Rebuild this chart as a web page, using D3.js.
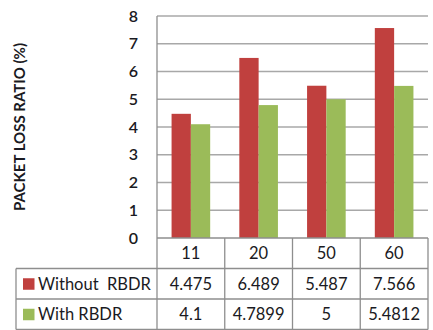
<!DOCTYPE html>
<html>
<head>
<meta charset="utf-8">
<script src="https://cdn.jsdelivr.net/npm/d3@7"></script>
<style>
  body { margin: 0; background: #fff; }
  text { font-family: Lato, "Open Sans", sans-serif; fill: #1a1a22; }
</style>
</head>
<body>
<div id="chart"></div>
<script>
// data
var categories = ["11", "20", "50", "60"];
var seriesNames = ["Without  RBDR", "With RBDR"];
var withoutRBDR = [4.475, 6.489, 5.487, 7.566];
var withRBDR = [4.1, 4.7899, 5, 5.4812];
var yTicks = [0, 1, 2, 3, 4, 5, 6, 7, 8];
var seriesColors = ["#c0403e", "#9bbb59"];

var series = [withoutRBDR, withRBDR];

var width = 433, height = 330;
var plotLeft = 157, plotRight = 428, plotTop = 16, plotBottom = 238;
var rowH = 30.5;
var tableLeft = 16;

var svg = d3.select("#chart")
  .append("svg")
  .attr("width", width)
  .attr("height", height);

// scales
var x0 = d3.scaleBand()
  .domain(categories)
  .range([plotLeft, plotRight])
  .padding(0);

var x1 = d3.scaleBand()
  .domain(d3.range(series.length))
  .range([x0.bandwidth() * 0.215, x0.bandwidth() * 0.785])
  .padding(0);

var y = d3.scaleLinear()
  .domain([0, 8])
  .range([plotBottom, plotTop]);

// gridlines
svg.append("g")
  .selectAll("line")
  .data(yTicks.slice(1))
  .enter()
  .append("line")
  .attr("x1", plotLeft)
  .attr("x2", plotRight)
  .attr("y1", function (d) { return y(d); })
  .attr("y2", function (d) { return y(d); })
  .attr("stroke", "#a8a8a8")
  .attr("stroke-width", 1.5);

// y tick labels
svg.append("g")
  .selectAll("text")
  .data(yTicks)
  .enter()
  .append("text")
  .attr("x", 138)
  .attr("y", function (d) { return y(d); })
  .attr("dy", "0.35em")
  .attr("text-anchor", "end")
  .style("font-size", "16px")
  .style("font-weight", "600")
  .text(function (d) { return d; });

// y axis title
svg.append("text")
  .attr("transform", "translate(20," + 127 + ") rotate(-90)")
  .attr("text-anchor", "middle")
  .attr("dy", "0.35em")
  .style("font-size", "15px")
  .style("font-weight", "bold")
  .text("PACKET LOSS RATIO (%)");

// bars
svg.append("g")
  .selectAll("g")
  .data(series)
  .enter()
  .append("g")
  .attr("fill", function (d, i) { return seriesColors[i]; })
  .each(function (vals, si) {
    d3.select(this).selectAll("rect")
      .data(vals)
      .enter()
      .append("rect")
      .attr("x", function (d, ci) { return x0(categories[ci]) + x1(si); })
      .attr("y", function (d) { return y(d); })
      .attr("width", x1.bandwidth())
      .attr("height", function (d) { return y(0) - y(d); });
  });

// ---------------------------//
//       DATA TABLE           //
// ---------------------------//
var lineColor = "#8e8e8e";
var tableBottom = plotBottom + rowH * 3;
var table = svg.append("g")
  .attr("stroke", lineColor)
  .attr("stroke-width", 1.3);

// horizontal lines
table.append("line")
  .attr("x1", plotLeft).attr("x2", plotRight)
  .attr("y1", plotBottom).attr("y2", plotBottom);
[1, 2, 3].forEach(function (r) {
  table.append("line")
    .attr("x1", tableLeft).attr("x2", plotRight)
    .attr("y1", plotBottom + rowH * r).attr("y2", plotBottom + rowH * r);
});

// vertical lines
table.append("line")
  .attr("x1", plotLeft).attr("x2", plotLeft)
  .attr("y1", plotTop).attr("y2", tableBottom);
table.append("line")
  .attr("x1", tableLeft).attr("x2", tableLeft)
  .attr("y1", plotBottom + rowH).attr("y2", tableBottom);
categories.forEach(function (c) {
  var xr = x0(c) + x0.bandwidth();
  table.append("line")
    .attr("x1", xr).attr("x2", xr)
    .attr("y1", plotBottom).attr("y2", tableBottom);
});

// category labels
svg.append("g")
  .selectAll("text")
  .data(categories)
  .enter()
  .append("text")
  .attr("x", function (d) { return x0(d) + x0.bandwidth() / 2; })
  .attr("y", plotBottom + rowH / 2)
  .attr("dy", "0.35em")
  .attr("text-anchor", "middle")
  .style("font-size", "16.5px")
  .text(function (d) { return d; });

// value rows with legend keys
series.forEach(function (vals, si) {
  var rowMid = plotBottom + rowH * (si + 1.5);
  var row = svg.append("g");
  row.append("rect")
    .attr("x", 23)
    .attr("y", rowMid - 5.5)
    .attr("width", 11.5)
    .attr("height", 11.5)
    .attr("fill", seriesColors[si]);
  row.append("text")
    .attr("x", 38)
    .attr("y", rowMid)
    .attr("dy", "0.35em")
    .style("font-size", "16.5px")
    .style("white-space", "pre")
    .text(seriesNames[si]);
  row.selectAll(".val")
    .data(vals)
    .enter()
    .append("text")
    .attr("class", "val")
    .attr("x", function (d, ci) { return x0(categories[ci]) + x0.bandwidth() / 2; })
    .attr("y", rowMid)
    .attr("dy", "0.35em")
    .attr("text-anchor", "middle")
    .style("font-size", "16.5px")
    .text(function (d) { return String(d); });
});
</script>
</body>
</html>
